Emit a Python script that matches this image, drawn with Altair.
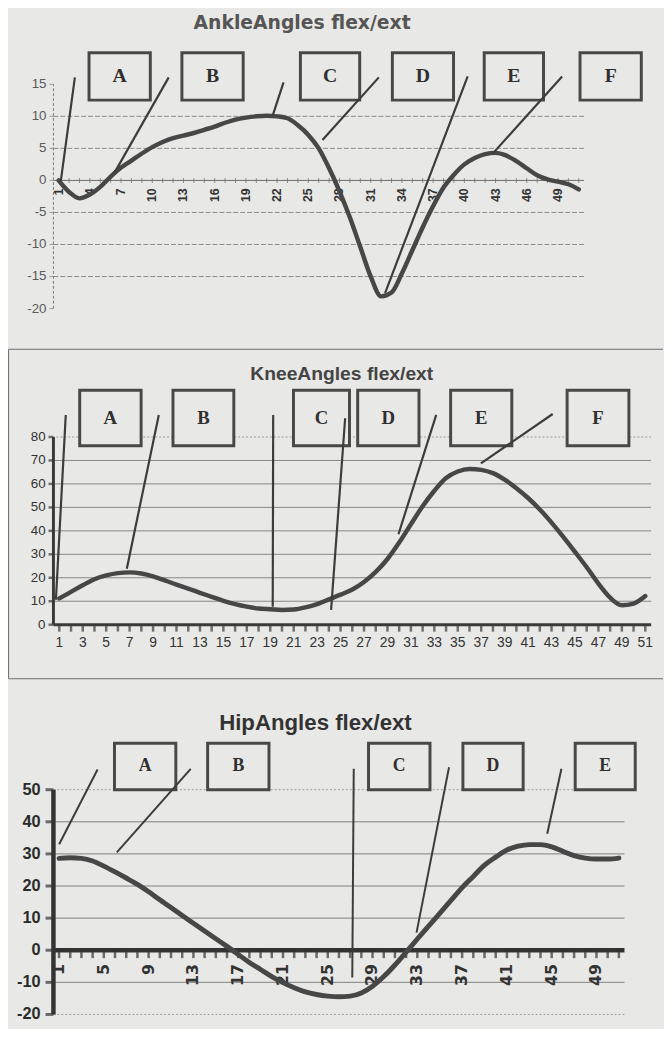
import altair as alt
import pandas as pd

# ---------------- data ----------------
categories = list(range(1, 52))

ankle_angles = [0.0, -1.8, -2.8, -2.2, -1.0, 0.6, 2.0, 3.1, 4.2, 5.2,
                6.0, 6.6, 7.0, 7.4, 7.9, 8.4, 9.0, 9.5, 9.8, 10.0,
                10.1, 10.0, 9.7, 8.6, 7.1, 5.0, 1.9, -1.7, -5.8, -10.4,
                -15.0, -18.1, -17.5, -14.5, -10.9, -7.3, -4.0, -1.1, 0.9, 2.5,
                3.5, 4.1, 4.3, 3.9, 3.0, 1.9, 0.8, 0.15, -0.2, -0.6, -1.4]

knee_angles = [11.2, 14.0, 16.8, 19.4, 21.0, 22.0, 22.3, 21.8, 20.6, 18.9,
               17.1, 15.4, 13.6, 11.9, 10.2, 8.8, 7.7, 6.9, 6.6, 6.3,
               6.5, 7.4, 8.8, 10.8, 12.8, 15.0, 18.2, 22.5, 28.0, 35.0,
               42.8, 50.5, 57.1, 62.5, 65.3, 66.4, 66.0, 64.6, 61.8, 58.2,
               54.0, 49.1, 43.5, 37.4, 31.0, 24.5, 17.5, 11.5, 8.3, 9.0, 12.2]

hip_angles = [28.6, 28.8, 28.6, 27.8, 26.2, 24.4, 22.5, 20.5, 18.2, 15.7,
              13.3, 10.8, 8.4, 6.0, 3.6, 1.2, -1.3, -3.8, -6.0, -8.2,
              -10.1, -11.7, -13.0, -13.8, -14.3, -14.5, -14.3, -13.3, -11.2, -8.2,
              -4.6, -0.6, 3.5, 7.5, 11.5, 15.5, 19.5, 23.0, 26.5, 29.0,
              31.2, 32.4, 32.9, 32.9, 32.2, 30.8, 29.5, 28.7, 28.4, 28.4, 28.7]

titles = ["AnkleAngles flex/ext", "KneeAngles flex/ext", "HipAngles flex/ext"]

ankle_x_labels = list(range(1, 50, 3))
knee_x_labels = list(range(1, 52, 2))
hip_x_labels = list(range(1, 50, 4))
ankle_y_labels = [-20, -15, -10, -5, 0, 5, 10, 15]
knee_y_labels = [0, 10, 20, 30, 40, 50, 60, 70, 80]
hip_y_labels = [-20, -10, 0, 10, 20, 30, 40, 50]

ankle_grid = [-15, -10, -5, 5, 10]
knee_grid = [10, 20, 30, 40, 50, 60, 70]
knee_grid_dotted = [80]
hip_grid = [-10, 10, 20, 30, 40]
hip_grid_dotted = [-20, 50]

# annotation boxes (data coordinates)
ankle_box_letters = ["A", "B", "C", "D", "E", "F"]
ankle_box_x1 = [3.92, 12.85, 24.24, 33.08, 41.91, 51.12]
ankle_box_x2 = [9.81, 18.74, 29.94, 38.96, 47.61, 57.01]
ankle_box_y = [12.53, 19.93]

knee_box_letters = ["A", "B", "C", "D", "E", "F"]
knee_box_x1 = [2.74, 10.70, 20.98, 26.46, 34.39, 44.33]
knee_box_x2 = [7.98, 15.89, 25.76, 31.69, 39.61, 49.60]
knee_box_y = [76.3, 99.9]

hip_box_letters = ["A", "B", "C", "D", "E"]
hip_box_x1 = [5.95, 14.27, 28.64, 37.07, 47.10]
hip_box_x2 = [11.43, 19.75, 34.13, 42.45, 52.46]
hip_box_y = [50.0, 64.49]

# callout lines (data coordinates)
ankle_call_x1 = [2.56, 11.58, 22.62, 31.78, 40.32, 49.40]
ankle_call_y1 = [16.08, 16.08, 15.31, 16.08, 16.23, 16.23]
ankle_call_x2 = [1.20, 6.36, 21.59, 26.36, 32.38, 42.76]
ankle_call_y2 = [-0.2, 1.17, 10.18, 6.32, -17.58, 4.26]

knee_call_x1 = [1.55, 9.49, 19.25, 25.39, 33.16, 43.10]
knee_call_y1 = [89.4, 89.4, 89.4, 88.0, 89.4, 89.8]
knee_call_x2 = [0.71, 6.76, 19.21, 24.19, 29.94, 36.97]
knee_call_y2 = [10.65, 23.83, 7.7, 6.3, 38.57, 68.76]

hip_call_x1 = [4.44, 12.76, 27.32, 35.83, 45.87]
hip_call_y1 = [56.3, 56.5, 56.5, 57.0, 56.5]
hip_call_x2 = [1.01, 6.16, 27.19, 32.93, 44.60]
hip_call_y2 = [33.0, 30.5, -8.5, 5.5, 36.3]

# title anchor (data coordinates)
ankle_title_pos = [24.4, 23.63]
knee_title_pos = [25.1, 104.1]
hip_title_pos = [23.9, 68.5]

# ---------------- styling ----------------
BG = "#e8e8e6"
INK = "#474747"
X_DOMAIN = [0.5, 51.5]


def panel(angles, y_domain, width, height, x_labels, y_labels, grid_solid, grid_dotted,
          letters, bx1, bx2, by, cx1, cy1, cx2, cy2, title, title_pos, spacer, st, frame=None):
    xs = alt.Scale(domain=X_DOMAIN, nice=False, zero=False)
    ys = alt.Scale(domain=y_domain, nice=False, zero=False)

    def X(f):
        return alt.X(f, type="quantitative", scale=xs, axis=None)

    def Y(f):
        return alt.Y(f, type="quantitative", scale=ys, axis=None)

    layers = []
    # invisible layout cell
    layers.append(
        alt.Chart(pd.DataFrame({"k": [0]})).mark_rect(fill="#ffffff", opacity=0).encode(
            x=alt.value(spacer[0]), x2=alt.value(spacer[1]),
            y=alt.value(spacer[2]), y2=alt.value(spacer[3]))
    )
    if frame is not None:
        # chart-area border (left, top, bottom; the right side runs off the page)
        fx1, fx2, fy1, fy2 = frame
        for a, b, c, d in [(fx1, fx1, fy1, fy2), (fx1, fx2, fy1, fy1), (fx1, fx2, fy2, fy2)]:
            layers.append(
                alt.Chart(pd.DataFrame({"k": [0]})).mark_rule(color="#6a6a6a", strokeWidth=1)
                .encode(x=alt.value(a), x2=alt.value(b), y=alt.value(c), y2=alt.value(d))
            )
    # gridlines
    grid_kw = dict(color=st["grid_color"], strokeWidth=1)
    if st.get("grid_dash"):
        grid_kw["strokeDash"] = st["grid_dash"]
    layers.append(
        alt.Chart(pd.DataFrame({"v": grid_solid})).mark_rule(**grid_kw).encode(y=Y("v"))
    )
    if grid_dotted:
        layers.append(
            alt.Chart(pd.DataFrame({"v": grid_dotted})).mark_rule(
                color="#9a9a9a", strokeWidth=1, strokeDash=[2, 2]).encode(y=Y("v"))
        )

    # x axis line at zero
    layers.append(
        alt.Chart(pd.DataFrame({"x1": [X_DOMAIN[0]], "x2": [X_DOMAIN[1]], "y": [0]}))
        .mark_rule(color=st["xdom_color"], strokeWidth=st["xdom_w"])
        .encode(x=X("x1"), x2="x2:Q", y=Y("y"))
    )
    # category ticks
    df = pd.DataFrame({"cat": categories, "angle": angles, "zero": [0] * len(categories)})
    layers.append(
        alt.Chart(df).mark_tick(orient="vertical", size=st["ctick_size"],
                                thickness=st["ctick_w"], color=st["ctick_color"],
                                yOffset=st["ctick_off"]).encode(x=X("cat"), y=Y("zero"))
    )
    # y axis line
    ydom_kw = dict(color=st["ydom_color"], strokeWidth=st["ydom_w"])
    if st.get("ydom_dash"):
        ydom_kw["strokeDash"] = st["ydom_dash"]
    layers.append(
        alt.Chart(pd.DataFrame({"x": [X_DOMAIN[0]], "y1": [y_domain[0]], "y2": [y_domain[1]]}))
        .mark_rule(**ydom_kw).encode(x=X("x"), y=Y("y1"), y2="y2:Q")
    )
    # y ticks and labels
    ylab = pd.DataFrame({"v": y_labels, "lab": [str(v) for v in y_labels],
                         "x": [X_DOMAIN[0]] * len(y_labels)})
    layers.append(
        alt.Chart(ylab).mark_tick(orient="horizontal", size=st["ytick_size"],
                                  thickness=st["ytick_w"], color=st["ydom_color"],
                                  xOffset=-st["ytick_size"] / 2).encode(x=X("x"), y=Y("v"))
    )
    layers.append(
        alt.Chart(ylab).mark_text(font=st["ylab_font"], fontSize=st["ylab_size"],
                                  fontWeight=st["ylab_weight"], color=st["ylab_color"],
                                  align="right", baseline="middle",
                                  xOffset=-(st["ytick_size"] + st["ylab_pad"]))
        .encode(x=X("x"), y=Y("v"), text="lab:N")
    )
    # x labels
    xlab = pd.DataFrame({"c": x_labels, "lab": [str(v) for v in x_labels],
                         "zero": [0] * len(x_labels)})
    layers.append(
        alt.Chart(xlab).mark_text(font=st["xlab_font"], fontSize=st["xlab_size"],
                                  fontWeight=st["xlab_weight"], color=st["xlab_color"],
                                  angle=st["xlab_angle"], align=st["xlab_align"],
                                  baseline=st["xlab_base"], yOffset=st["xlab_pad"])
        .encode(x=X("c"), y=Y("zero"), text="lab:N")
    )
    # the curve
    layers.append(
        alt.Chart(df).mark_line(color=INK, strokeWidth=st["line_w"], interpolate="monotone",
                                strokeCap="round", strokeJoin="round")
        .encode(x=X("cat"), y=Y("angle"))
    )
    # boxes, callouts, letters
    boxes = pd.DataFrame({
        "letter": letters, "x1": bx1, "x2": bx2,
        "y1": [by[0]] * len(letters), "y2": [by[1]] * len(letters),
    })
    boxes["cx"] = (boxes["x1"] + boxes["x2"]) / 2
    boxes["cy"] = (boxes["y1"] + boxes["y2"]) / 2
    layers.append(
        alt.Chart(boxes).mark_rect(fill=BG, stroke="#484848", strokeWidth=3)
        .encode(x=X("x1"), x2="x2:Q", y=Y("y1"), y2="y2:Q")
    )
    calls = pd.DataFrame({"x1": cx1, "y1": cy1, "x2": cx2, "y2": cy2})
    layers.append(
        alt.Chart(calls).mark_rule(color="#3c3c3c", strokeWidth=st["call_w"])
        .encode(x=X("x1"), x2="x2:Q", y=Y("y1"), y2="y2:Q")
    )
    layers.append(
        alt.Chart(boxes).mark_text(font="Liberation Serif", fontSize=st["letter_size"],
                                   fontWeight="bold", color="#303030",
                                   align="center", baseline="middle")
        .encode(x=X("cx"), y=Y("cy"), text="letter:N")
    )
    layers.append(
        alt.Chart(pd.DataFrame({"t": [title], "x": [title_pos[0]], "y": [title_pos[1]]}))
        .mark_text(font=st["title_font"], fontSize=st["title_size"], fontWeight="bold",
                   color=st["title_color"], align="center", baseline="alphabetic")
        .encode(x=X("x"), y=Y("y"), text="t:N")
    )
    return alt.layer(*layers).properties(width=width, height=height)


ankle_style = dict(
    grid_color="#8c8c8c", grid_dash=[5, 2],
    ctick_size=5, ctick_w=1, ctick_color="#6a6a6a", ctick_off=0,
    xdom_color="#6a6a6a", xdom_w=1,
    xlab_angle=270, xlab_align="right", xlab_base="middle",
    xlab_font="Liberation Sans", xlab_size=12.5, xlab_weight="bold",
    xlab_color="#333333", xlab_pad=8,
    ytick_size=4, ytick_w=1, ydom_color="#7a7a7a", ydom_w=1, ydom_dash=[3, 2],
    ylab_font="Liberation Sans", ylab_size=13.5, ylab_weight="normal",
    ylab_color="#5a5a5a", ylab_pad=3,
    line_w=4.5, call_w=2.2, letter_size=20,
    title_font="DejaVu Sans", title_size=19, title_color="#555555",
)

knee_style = dict(
    grid_color="#858585",
    ctick_size=7, ctick_w=2.5, ctick_color="#3a3a3a", ctick_off=3.5,
    xdom_color="#3a3a3a", xdom_w=3,
    xlab_angle=0, xlab_align="center", xlab_base="top",
    xlab_font="Liberation Sans Narrow, Liberation Sans", xlab_size=14, xlab_weight="normal",
    xlab_color="#333333", xlab_pad=12,
    ytick_size=5, ytick_w=2.5, ydom_color="#3a3a3a", ydom_w=3,
    ylab_font="Liberation Sans", ylab_size=13.5, ylab_weight="normal",
    ylab_color="#333333", ylab_pad=3,
    line_w=4.5, call_w=2.2, letter_size=19,
    title_font="Liberation Sans", title_size=19.5, title_color="#444444",
)

hip_style = dict(
    grid_color="#7f7f7f",
    ctick_size=8, ctick_w=2.5, ctick_color="#333333", ctick_off=4,
    xdom_color="#333333", xdom_w=4.5,
    xlab_angle=270, xlab_align="right", xlab_base="middle",
    xlab_font="DejaVu Sans", xlab_size=16, xlab_weight="bold",
    xlab_color="#333333", xlab_pad=14,
    ytick_size=8, ytick_w=3, ydom_color="#333333", ydom_w=4.5,
    ylab_font="Liberation Sans", ylab_size=16.5, ylab_weight="bold",
    ylab_color="#2a2a2a", ylab_pad=5,
    line_w=5, call_w=2, letter_size=18,
    title_font="Liberation Sans", title_size=22.5, title_color="#333333",
)

# plot tops (page px): ankle 79, knee 435.3, hip 792; cells 8-346, 346-681, 681-1028
ankle = panel(ankle_angles, [-20, 15], 537, 227, ankle_x_labels, ankle_y_labels,
              ankle_grid, [], ankle_box_letters, ankle_box_x1, ankle_box_x2, ankle_box_y,
              ankle_call_x1, ankle_call_y1, ankle_call_x2, ankle_call_y2,
              titles[0], ankle_title_pos, [-42, 600, -71, 267], ankle_style)

knee = panel(knee_angles, [0, 80], 605, 190, knee_x_labels, knee_y_labels,
             knee_grid, knee_grid_dotted, knee_box_letters, knee_box_x1, knee_box_x2, knee_box_y,
             knee_call_x1, knee_call_y1, knee_call_x2, knee_call_y2,
             titles[1], knee_title_pos, [-46, 600, -89.3, 245.7], knee_style,
             frame=[-45.4, 617, -88.8, 244.7])

hip = panel(hip_angles, [-20, 50], 578, 227.5, hip_x_labels, hip_y_labels,
            hip_grid, hip_grid_dotted, hip_box_letters, hip_box_x1, hip_box_x2, hip_box_y,
            hip_call_x1, hip_call_y1, hip_call_x2, hip_call_y2,
            titles[2], hip_title_pos, [-39.5, 600, -111, 236], hip_style)

chart = (
    alt.vconcat(ankle, knee, hip, spacing=0)
    .properties(padding=0, background=BG)
    .configure_view(strokeWidth=0)
)

chart.save("out.html", embed_options={"renderer": "svg", "actions": False})
